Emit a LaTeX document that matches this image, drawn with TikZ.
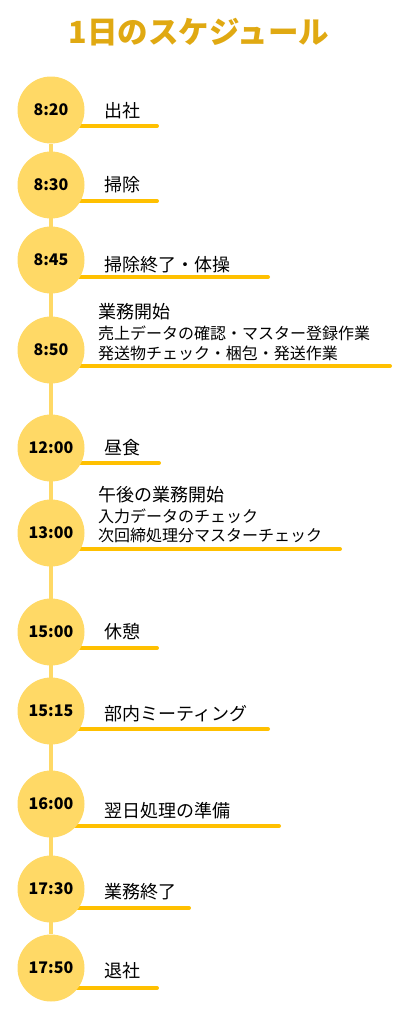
\documentclass[tikz,border=0pt]{standalone}
\usepackage{fontspec}
\setmainfont{Noto Sans CJK JP}
\usepackage{xcolor}
\usepackage{tikz}
\usetikzlibrary{
    positioning,
    backgrounds
}
\definecolor{dotyellow}{HTML}{FFD966}
\definecolor{lineyellow}{HTML}{FFC000}
\definecolor{titlegold}{HTML}{E0A912}

\begin{document}
\begin{tikzpicture}[x=1pt, y=-1pt,
  timept/.style={circle, fill=dotyellow, minimum size=67pt, inner sep=0pt,
                 font=\fontsize{16}{16}\selectfont\bfseries},
  task/.style={anchor=west, inner sep=0pt, font=\fontsize{18}{18}\selectfont},
  subtask/.style={anchor=west, inner sep=0pt, font=\fontsize{16}{16}\selectfont},
  uline/.style={draw=lineyellow, line width=4pt, line cap=round},
  vline/.style={draw=dotyellow, line width=4pt}]

  \useasboundingbox (0,0) rectangle (401,1021);

  % Title
  \node[font=\fontsize{30.5}{30.5}\selectfont\bfseries, text=titlegold] (title) at (199,32)
    {1日のスケジュール};

  % Time circles top to bottom
  \node[timept] (t1)  at (51,110) {8:20};
  \node[timept] (t2)  at (51,185) {8:30};
  \node[timept] (t3)  at (51,260) {8:45};
  \node[timept] (t4)  at (51,350) {8:50};
  \node[timept] (t5)  at (51,448) {12:00};
  \node[timept] (t6)  at (51,533) {13:00};
  \node[timept] (t7)  at (51,632) {15:00};
  \node[timept] (t8)  at (51,711) {15:15};
  \node[timept] (t9)  at (51,804) {16:00};
  \node[timept] (t10) at (51,889) {17:30};
  \node[timept] (t11) at (51,968) {17:50};

  % Tasks
  \node[task] (d1)  at (104,111) {出社};
  \node[task] (d2)  at (104,185) {掃除};
  \node[task] (d3)  at (104,265) {掃除終了・体操};
  \node[task]    (d4a) at (98,312) {業務開始};
  \node[subtask] (d4b) at (98,333) {売上データの確認・マスター登録作業};
  \node[subtask] (d4c) at (98,353) {発送物チェック・梱包・発送作業};
  \node[task] (d5)  at (104,448) {昼食};
  \node[task]    (d6a) at (98,495) {午後の業務開始};
  \node[subtask] (d6b) at (98,516) {入力データのチェック};
  \node[subtask] (d6c) at (98,535) {次回締処理分マスターチェック};
  \node[task] (d7)  at (104,632) {休憩};
  \node[task] (d8)  at (104,714) {部内ミーティング};
  \node[task] (d9)  at (104,811) {翌日処理の準備};
  \node[task] (d10) at (104,892) {業務終了};
  \node[task] (d11) at (104,971) {退社};

  % Underline ends
  \coordinate (e1)  at (157,126);
  \coordinate (e2)  at (157,201);
  \coordinate (e3)  at (268,277);
  \coordinate (e4)  at (390,366);
  \coordinate (e5)  at (159,463);
  \coordinate (e6)  at (340,549);
  \coordinate (e7)  at (157,648);
  \coordinate (e8)  at (268,729);
  \coordinate (e9)  at (279,826);
  \coordinate (e10) at (189,908);
  \coordinate (e11) at (157,988);

  % Timeline and underlines behind the circles
  \begin{scope}[on background layer]
    \draw[vline] (t1) -- (t11);
    \draw[uline] (t1.center |- e1) -- (e1);
    \draw[uline] (t2.center |- e2) -- (e2);
    \draw[uline] (t3.center |- e3) -- (e3);
    \draw[uline] (t4.center |- e4) -- (e4);
    \draw[uline] (t5.center |- e5) -- (e5);
    \draw[uline] (t6.center |- e6) -- (e6);
    \draw[uline] (t7.center |- e7) -- (e7);
    \draw[uline] (t8.center |- e8) -- (e8);
    \draw[uline] (t9.center |- e9) -- (e9);
    \draw[uline] (t10.center |- e10) -- (e10);
    \draw[uline] (t11.center |- e11) -- (e11);
  \end{scope}
\end{tikzpicture}
\end{document}
